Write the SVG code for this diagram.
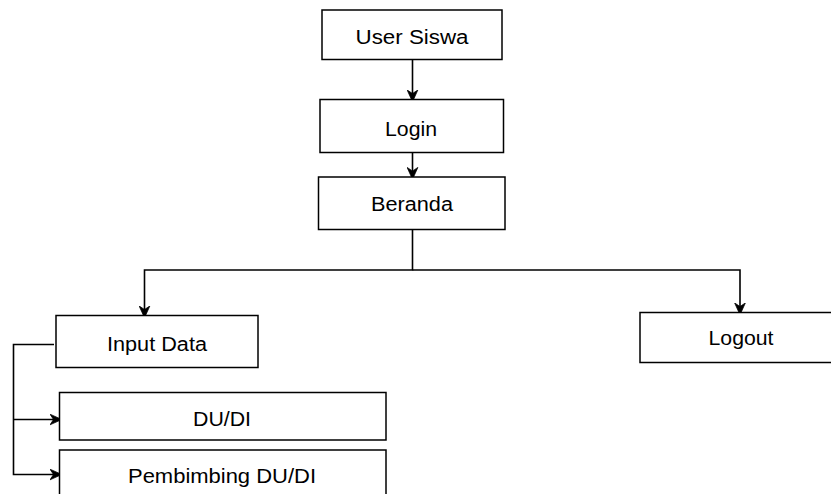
<svg xmlns="http://www.w3.org/2000/svg" width="831" height="494" viewBox="0 0 831 494">
  <style>
    .box { fill: #ffffff; stroke: #000000; stroke-width: 1.5; }
    .lbl { font-family: "Liberation Sans", Arial, sans-serif; font-size: 20px; fill: #000000; text-anchor: middle; }
    .wire { fill: none; stroke: #000000; stroke-width: 1.6; }
  </style>
  <defs>
    <marker id="arrow" viewBox="0 0 10 10" refX="8" refY="5" markerWidth="12" markerHeight="12" markerUnits="userSpaceOnUse" orient="auto">
      <path d="M0,0.5 L10,5 L0,9.5 L3,5 Z" fill="#000000" stroke="#000000" stroke-width="0.6" stroke-linejoin="miter"/>
    </marker>
  </defs>

  <g id="connectors">
    <line class="wire" x1="412.5" y1="59.5" x2="412.5" y2="99.5" marker-end="url(#arrow)"/>
    <line class="wire" x1="412.5" y1="152.5" x2="412.5" y2="177" marker-end="url(#arrow)"/>
    <polyline class="wire" points="412.5,229.5 412.5,270 144.5,270 144.5,315.5" marker-end="url(#arrow)"/>
    <polyline class="wire" points="412.5,270 740,270 740,312.5" marker-end="url(#arrow)"/>
    <polyline class="wire" points="54,344.5 13.5,344.5 13.5,474.5 59.5,474.5" marker-end="url(#arrow)"/>
    <line class="wire" x1="13.5" y1="419.5" x2="59.5" y2="419.5" marker-end="url(#arrow)"/>
  </g>

  <g id="user-siswa">
    <rect class="box" x="322" y="10" width="180" height="49.5"/>
    <text class="lbl" x="412" y="43.5" textLength="113" lengthAdjust="spacingAndGlyphs">User Siswa</text>
  </g>
  <g id="login">
    <rect class="box" x="320" y="99.5" width="183.5" height="53"/>
    <text class="lbl" x="411" y="135.5" textLength="52" lengthAdjust="spacingAndGlyphs">Login</text>
  </g>
  <g id="beranda">
    <rect class="box" x="318.5" y="177" width="186.5" height="52.5"/>
    <text class="lbl" x="412" y="211" textLength="82" lengthAdjust="spacingAndGlyphs">Beranda</text>
  </g>
  <g id="input-data">
    <rect class="box" x="56" y="315.5" width="202" height="52"/>
    <text class="lbl" x="157" y="351" textLength="100" lengthAdjust="spacingAndGlyphs">Input Data</text>
  </g>
  <g id="logout">
    <rect class="box" x="640" y="312.5" width="200" height="50"/>
    <text class="lbl" x="741" y="345" textLength="65" lengthAdjust="spacingAndGlyphs">Logout</text>
  </g>
  <g id="du-di">
    <rect class="box" x="59.5" y="392.5" width="326.5" height="47.5"/>
    <text class="lbl" x="222" y="426" textLength="58" lengthAdjust="spacingAndGlyphs">DU/DI</text>
  </g>
  <g id="pembimbing-du-di">
    <rect class="box" x="59.5" y="450" width="326.5" height="60"/>
    <text class="lbl" x="222" y="482.5" textLength="188" lengthAdjust="spacingAndGlyphs">Pembimbing DU/DI</text>
  </g>
</svg>
